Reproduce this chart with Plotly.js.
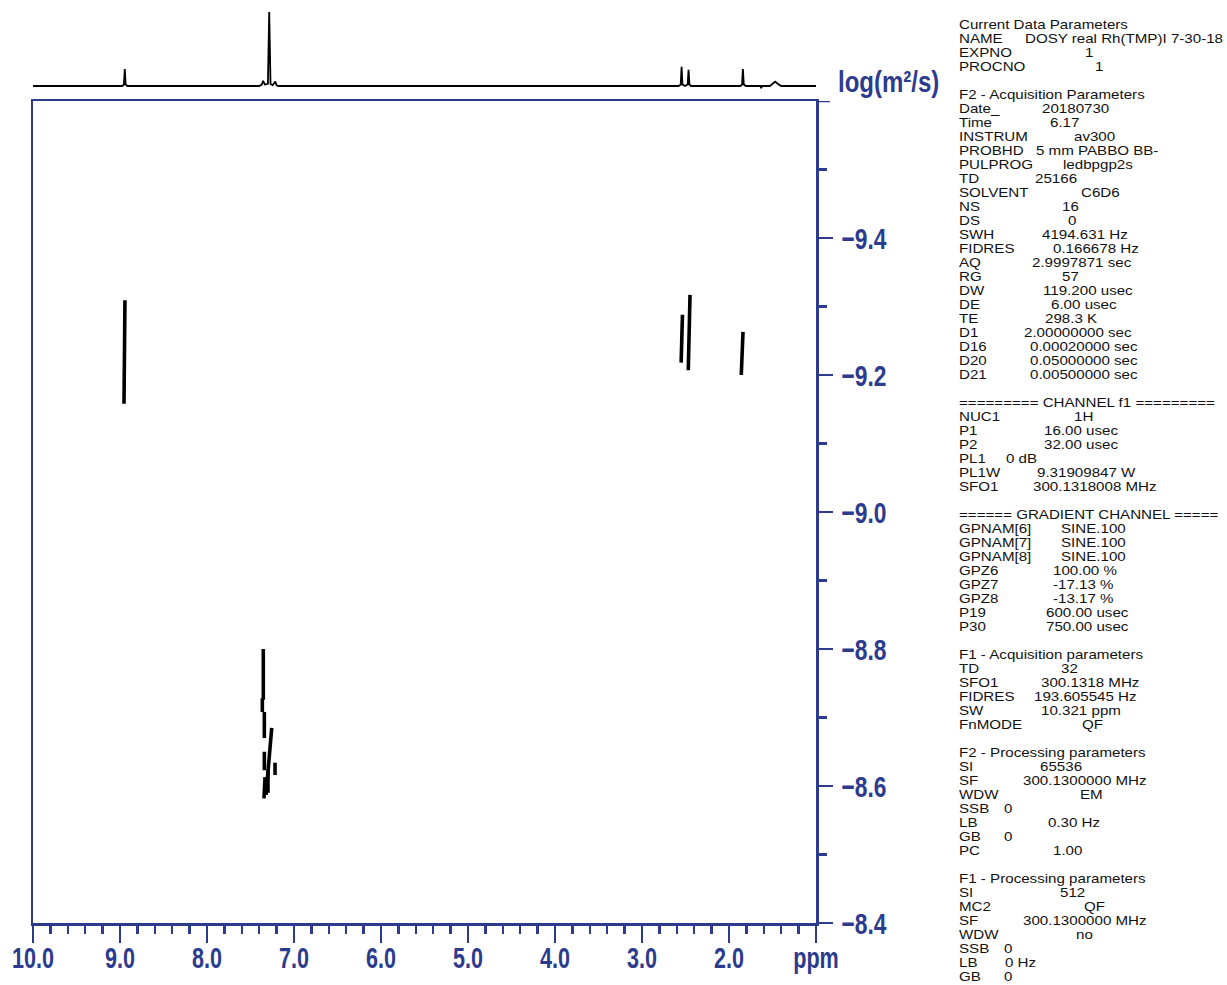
<!DOCTYPE html>
<html><head><meta charset="utf-8">
<script src="https://cdn.plot.ly/plotly-3.0.1.min.js"></script>
<style>html,body{margin:0;padding:0;background:#fff;}#chart{width:1227px;height:985px;}</style>
</head><body><div id="chart"></div><script>
// ---- 1D projection spectrum (ppm, relative intensity; tallest = 100) ----
const specPpm = [10.0, 8.975, 8.955, 8.945, 8.935, 8.915, 7.40, 7.37, 7.355, 7.335, 7.300, 7.285, 7.270, 7.245, 7.215, 7.200, 7.180,
  2.58, 2.555, 2.545, 2.535, 2.505, 2.475, 2.465, 2.455, 2.435, 1.870, 1.850, 1.840, 1.830, 1.805, 1.640, 1.630, 1.620,
  1.530, 1.500, 1.470, 1.440, 1.400, 1.0];
const specInt = [0, 0, 2, 23, 2, 0, 0, 2, 7, 2, 3, 100, 3, 1, 6, 1, 0,
  0, 2, 26, 2, 0, 2, 22, 2, 0, 0, 2, 23, 2, 0, 0, -3, 0,
  0, 3, 6, 3, 0, 0];

// ---- DOSY cross peaks: each a segment (ppm at top/bottom, log D at top/bottom) ----
const dosyPpmTop    = [8.943, 2.535, 2.448, 1.839, 7.353, 7.364, 7.341, 7.341, 7.333, 7.256, 7.218, 7.299];
const dosyPpmBottom = [8.954, 2.550, 2.468, 1.859, 7.353, 7.364, 7.341, 7.341, 7.345, 7.322, 7.218, 7.299];
const dosyLogTop    = [-9.309, -9.288, -9.317, -9.263, -8.800, -8.728, -8.708, -8.650, -8.613, -8.685, -8.634, -8.623];
const dosyLogBottom = [-9.158, -9.218, -9.207, -9.200, -8.726, -8.708, -8.670, -8.623, -8.582, -8.587, -8.616, -8.590];

// ---- axes ----
const xTickVals = [10, 9, 8, 7, 6, 5, 4, 3, 2, 1];
const xTickText = ['10.0', '9.0', '8.0', '7.0', '6.0', '5.0', '4.0', '3.0', '2.0', 'ppm'];
const yTickVals = [-9.4, -9.2, -9.0, -8.8, -8.6, -8.4];
const yTickText = ['\u22129.4', '\u22129.2', '\u22129.0', '\u22128.8', '\u22128.6', '\u22128.4'];
const yAxisTop = -9.6;
const yAxisLabel = 'log(m\u00B2/s)';

// ---- parameter listing ----
const paramLabels = ['Current Data Parameters', 'NAME', 'EXPNO', 'PROCNO', '',
  'F2 - Acquisition Parameters', 'Date_', 'Time', 'INSTRUM', 'PROBHD', 'PULPROG', 'TD', 'SOLVENT', 'NS', 'DS', 'SWH', 'FIDRES', 'AQ', 'RG', 'DW', 'DE', 'TE', 'D1', 'D16', 'D20', 'D21', '',
  '========= CHANNEL f1 =========', 'NUC1', 'P1', 'P2', 'PL1', 'PL1W', 'SFO1', '',
  '====== GRADIENT CHANNEL =====', 'GPNAM[6]', 'GPNAM[7]', 'GPNAM[8]', 'GPZ6', 'GPZ7', 'GPZ8', 'P19', 'P30', '',
  'F1 - Acquisition parameters', 'TD', 'SFO1', 'FIDRES', 'SW', 'FnMODE', '',
  'F2 - Processing parameters', 'SI', 'SF', 'WDW', 'SSB', 'LB', 'GB', 'PC', '',
  'F1 - Processing parameters', 'SI', 'MC2', 'SF', 'WDW', 'SSB', 'LB', 'GB'];
const paramValues = ['', 'DOSY real Rh(TMP)I 7-30-18', '1', '1', '',
  '', '20180730', '6.17', 'av300', '5 mm PABBO BB-', 'ledbpgp2s', '25166', 'C6D6', '16', '0', '4194.631 Hz', '0.166678 Hz', '2.9997871 sec', '57', '119.200 usec', '6.00 usec', '298.3 K', '2.00000000 sec', '0.00020000 sec', '0.05000000 sec', '0.00500000 sec', '',
  '', '1H', '16.00 usec', '32.00 usec', '0 dB', '9.31909847 W', '300.1318008 MHz', '',
  '', 'SINE.100', 'SINE.100', 'SINE.100', '100.00 %', '-17.13 %', '-13.17 %', '600.00 usec', '750.00 usec', '',
  '', '32', '300.1318 MHz', '193.605545 Hz', '10.321 ppm', 'QF', '',
  '', '65536', '300.1300000 MHz', 'EM', '0', '0.30 Hz', '0', '1.00', '',
  '', '512', 'QF', '300.1300000 MHz', 'no', '0', '0 Hz', '0'];
// layout: pixel x where each value starts
const valueX = [0, 1024, 1084, 1094, 0,
  0, 1041, 1049, 1073, 1035, 1062, 1034, 1080, 1061, 1067, 1041, 1052, 1031, 1061, 1042, 1050, 1044, 1023, 1029, 1029, 1029, 0,
  0, 1073, 1043, 1043, 1005, 1036, 1032, 0,
  0, 1060, 1060, 1060, 1052, 1052, 1052, 1045, 1045, 0,
  0, 1060, 1040, 1033, 1040, 1081, 0,
  0, 1039, 1022, 1079, 1003, 1047, 1003, 1052, 0,
  0, 1059, 1083, 1022, 1075, 1003, 1004, 1003];

const BLUE = '#2c3b8e';
const TICKFONT = {family: '"Liberation Sans", Arial, sans-serif', size: 30, color: BLUE, weight: 'bold'};
const PANELFONT = {family: '"Liberation Sans", Arial, sans-serif', size: 13.5, color: '#111'};
const PL = 33, PR = 816, PT = 8, PB = 923;
const px2x = p => (p - PL) / (PR - PL);
const py2y = p => (PB - p) / (PB - PT);

// build DOSY segments
const dx = [], dy = [];
for (let i = 0; i < dosyPpmTop.length; i++) {
  dx.push(dosyPpmTop[i], dosyPpmBottom[i], null);
  dy.push(dosyLogTop[i], dosyLogBottom[i], null);
}

const traces = [
  {x: specPpm, y: specInt, xaxis: 'x', yaxis: 'y2', mode: 'lines', line: {color: '#000', width: 1.8}, hoverinfo: 'skip', showlegend: false},
  {x: dx, y: dy, xaxis: 'x', yaxis: 'y', mode: 'lines', line: {color: '#000', width: 3.6}, connectgaps: false, hoverinfo: 'skip', showlegend: false}
];

const minorX = [], minorY = [];
for (let v = 10; v > 1.05; v -= 0.2) { const r = Math.round(v * 10) / 10; if (Math.abs(r - Math.round(r)) > 0.01) minorX.push(r); }
for (let v = -9.5; v < -8.4; v += 0.2) minorY.push(Math.round(v * 10) / 10);

const annotations = [];
const squeezeFactor = [];
for (let i = 0; i < paramLabels.length; i++) {
  const y = py2y(24.5 + 14.0 * i);
  if (paramLabels[i]) { annotations.push({xref: 'paper', yref: 'paper', x: px2x(958), y: y, xanchor: 'left', yanchor: 'middle', align: 'left', borderpad: 0, showarrow: false, text: paramLabels[i], font: PANELFONT}); squeezeFactor.push(1.12); }
  if (paramValues[i]) { annotations.push({xref: 'paper', yref: 'paper', x: px2x(valueX[i]), y: y, xanchor: 'left', yanchor: 'middle', align: 'left', borderpad: 0, showarrow: false, text: paramValues[i], font: PANELFONT}); squeezeFactor.push(1.12); }
}
annotations.push({xref: 'paper', yref: 'paper', x: px2x(837), y: py2y(81), xanchor: 'left', yanchor: 'middle', align: 'left', borderpad: 0, showarrow: false, text: yAxisLabel, font: TICKFONT});
squeezeFactor.push(0.8);

const layout = {
  width: 1227, height: 985,
  margin: {l: PL, r: 1227 - PR, t: PT, b: 985 - PB, pad: 0},
  paper_bgcolor: '#fff', plot_bgcolor: 'rgba(0,0,0,0)',
  showlegend: false,
  xaxis: {range: [10, 1], domain: [0, 1], anchor: 'y', showline: true, mirror: true, linecolor: BLUE, linewidth: 2.5,
    ticks: 'outside', ticklen: 17, tickwidth: 2.5, tickcolor: BLUE, tickmode: 'array', tickvals: xTickVals, ticktext: xTickText,
    tickfont: TICKFONT, ticklabelstandoff: -11, showgrid: false, zeroline: false,
    minor: {tickmode: 'array', tickvals: minorX, ticklen: 8, tickwidth: 2.5, tickcolor: BLUE, showgrid: false}},
  yaxis: {range: [-8.4, -9.6], domain: [0, py2y(101)], anchor: 'x', side: 'right', showline: true, mirror: true, linecolor: BLUE, linewidth: 2.5,
    ticks: 'outside', ticklen: 14, tickwidth: 2.5, tickcolor: BLUE, tickmode: 'array', tickvals: yTickVals, ticktext: yTickText,
    tickfont: TICKFONT, ticklabelstandoff: 3, showgrid: false, zeroline: false,
    minor: {tickmode: 'array', tickvals: minorY, ticklen: 8, tickwidth: 2.5, tickcolor: BLUE, showgrid: false}},
  yaxis2: {range: [-12.16, 105.4], domain: [py2y(95), 1], anchor: 'x', showline: false, showticklabels: false, ticks: '', showgrid: false, zeroline: false},
  shapes: [{type: 'line', xref: 'paper', yref: 'y', x0: 1, x1: px2x(830), y0: yAxisTop, y1: yAxisTop, line: {color: BLUE, width: 2.5}}],
  annotations: annotations
};

function squeeze(el, f) {
  const w = el.getComputedTextLength();
  if (w > 0) { el.setAttribute('textLength', (w * f).toFixed(1)); el.setAttribute('lengthAdjust', 'spacingAndGlyphs'); }
  return w * f;
}
Plotly.newPlot('chart', traces, layout, {displayModeBar: false, staticPlot: true}).then(gd => {
  gd.querySelectorAll('.xtick text').forEach(t => squeeze(t, 0.72));
  gd.querySelectorAll('.ytick text').forEach(t => squeeze(t, 0.76));
  gd.querySelectorAll('g.annotation').forEach(g => {
    const idx = +g.getAttribute('data-index');
    const t = g.querySelector('text.annotation-text');
    if (!t) return;
    const nw = squeeze(t, squeezeFactor[idx]);
    g.querySelectorAll('rect').forEach(r => { if (r.getAttribute('width')) r.setAttribute('width', Math.ceil(nw)); });
  });
});
</script></body></html>
